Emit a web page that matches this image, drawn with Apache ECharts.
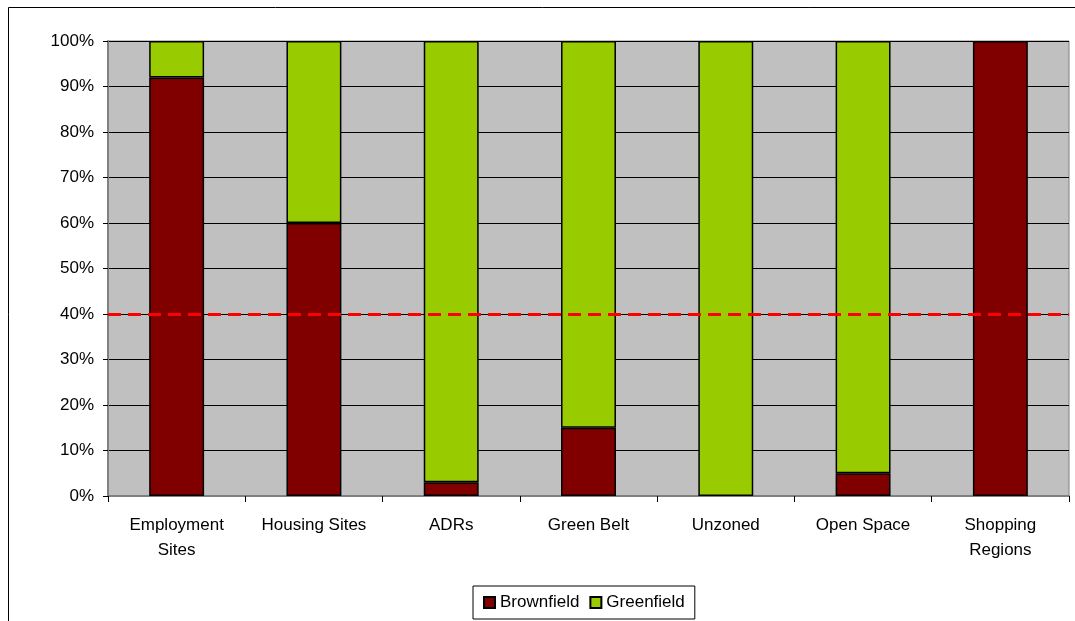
<!DOCTYPE html>
<html>
<head>
<meta charset="utf-8">
<script src="https://cdn.jsdelivr.net/npm/echarts@6/dist/echarts.min.js"></script>
<style>
  html, body { margin: 0; padding: 0; background: #fff; }
  #chart { width: 1075px; height: 621px; }
</style>
</head>
<body>
<div id="chart"></div>
<script>
const categories = ['Employment\nSites', 'Housing Sites', 'ADRs', 'Green Belt', 'Unzoned', 'Open Space', 'Shopping\nRegions'];
const brownfield = [92, 60, 3, 15, 0, 5, 100];
const greenfield = [8, 40, 97, 85, 100, 95, 0];
const targetLine = 40;

const FONT = 'Liberation Sans';

// empty segments would otherwise draw a black border line
const noZero = arr => arr.map(v => (v === 0 ? '-' : v));

const c = echarts.init(document.getElementById('chart'), null, { renderer: 'canvas' });
c.setOption({
  animation: false,
  textStyle: { fontFamily: FONT, color: '#000' },
  graphic: [{
    type: 'rect',
    shape: { x: 8.5, y: 7.5, width: 1200, height: 800 },
    style: { fill: 'none', stroke: '#000', lineWidth: 1 },
    silent: true,
    z: -10,
  }],
  grid: {
    left: 108, right: 6, top: 41, bottom: 125,
    show: true, backgroundColor: '#C0C0C0', borderColor: '#808080', borderWidth: 1,
  },
  legend: {
    left: 473, top: 586,
    itemWidth: 11, itemHeight: 11, itemGap: 10,
    padding: [8, 10, 8, 10],
    borderColor: '#000', borderWidth: 1,
    textStyle: { fontFamily: FONT, fontSize: 17, color: '#000' },
    icon: 'rect',
    data: ['Brownfield', 'Greenfield'],
  },
  xAxis: {
    type: 'category', data: categories,
    axisLine: { lineStyle: { color: '#808080', width: 2 } },
    axisTick: { show: true, length: 6, lineStyle: { color: '#000' } },
    axisLabel: { fontFamily: FONT, fontSize: 17, color: '#000', margin: 17, lineHeight: 25, interval: 0 },
    splitLine: { show: false },
  },
  yAxis: {
    type: 'value', min: 0, max: 100, interval: 10,
    axisLine: { show: true, lineStyle: { color: '#808080', width: 2 } },
    axisTick: { show: true, length: 5, lineStyle: { color: '#000' } },
    axisLabel: { fontFamily: FONT, fontSize: 17, color: '#000', margin: 14, formatter: '{value}%' },
    splitLine: { show: true, lineStyle: { color: '#000', width: 1 } },
  },
  series: [
    {
      name: 'Brownfield', type: 'bar', stack: 'total', data: noZero(brownfield), barWidth: '40%',
      itemStyle: { color: '#800000', borderColor: '#000', borderWidth: 1.5 },
      markLine: {
        silent: true, symbol: 'none', label: { show: false },
        lineStyle: { color: '#FF0000', type: [13, 7], width: 3 },
        data: [{ yAxis: targetLine }],
        z: 10,
      },
    },
    {
      name: 'Greenfield', type: 'bar', stack: 'total', data: noZero(greenfield), barWidth: '40%',
      itemStyle: { color: '#99CC00', borderColor: '#000', borderWidth: 1.5 },
    },
  ],
});
</script>
</body>
</html>
